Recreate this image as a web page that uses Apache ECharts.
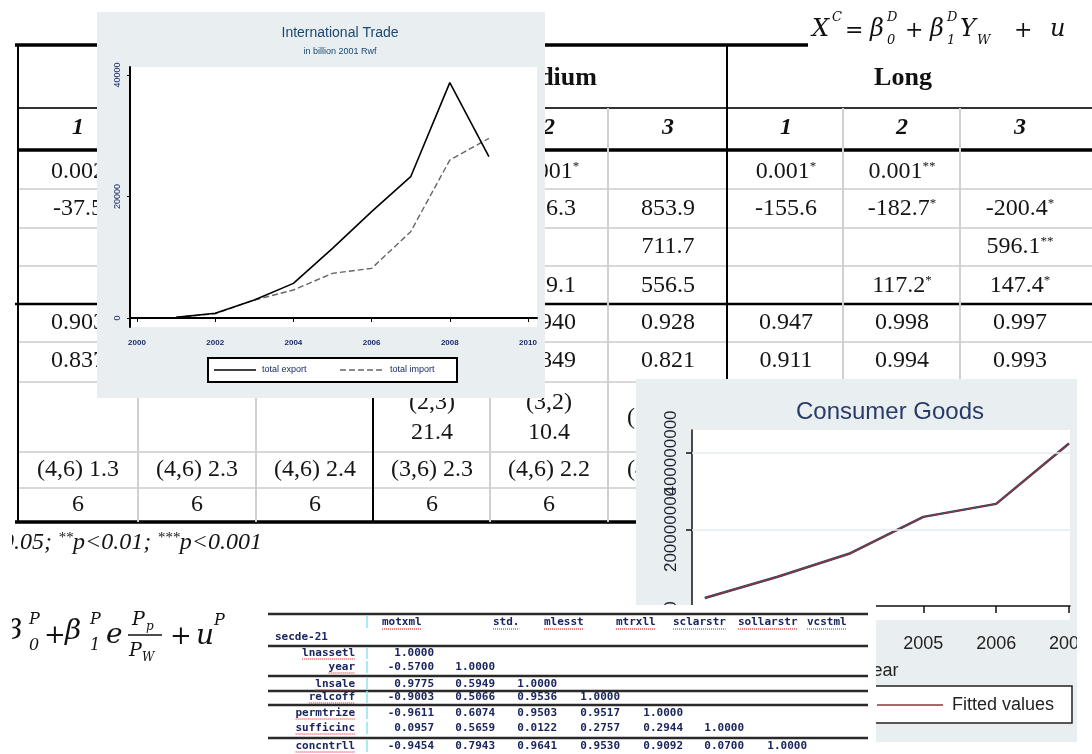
<!DOCTYPE html>
<html><head><meta charset="utf-8">
<script src="https://cdn.jsdelivr.net/npm/echarts@6/dist/echarts.min.js"></script>
<style>html,body{margin:0;padding:0;background:#fff;overflow:hidden}#c{width:1092px;height:754px}</style>
</head><body><div id="c"></div>
<script>
// ---------------- DATA ----------------
const tradeYears = [2001, 2002, 2003, 2004, 2005, 2006, 2007, 2008, 2009];
const totalExport = [110, 770, 2960, 5700, 11470, 17500, 23260, 38740, 26550];
const totalImport = [110, 700, 2960, 4610, 7350, 8170, 14210, 26000, 29570];
const tradeXTicks = [2000, 2002, 2004, 2006, 2008, 2010];
const tradeYTicks = [0, 20000, 40000];
const tradeTitle = 'International Trade';
const tradeSubtitle = 'in billion 2001 Rwf';
const tradeLegend = ['total export', 'total import'];

const goodsYears = [2002, 2003, 2004, 2005, 2006, 2007];
const goodsActual = [2.09e7, 7.66e7, 1.38e8, 2.33e8, 2.67e8, 4.25e8];
const goodsFitted = [2.09e7, 7.66e7, 1.38e8, 2.33e8, 2.67e8, 4.25e8];
const goodsXTicks = [2002, 2003, 2004, 2005, 2006, 2007];
const goodsYTicks = [0, 200000000, 400000000];
const goodsGridLines = [200000000, 400000000];
const goodsTitle = 'Consumer Goods';
const goodsXName = 'year';
const goodsLegend = 'Fitted values';

const tableGroups = ['Short', 'Medium', 'Long'];
const tableColNums = ['1', '2', '3', '1', '2', '3', '1', '2', '3'];
const rowCoefA = ['0.002', '', '', '', '0.001*', '', '0.001*', '0.001**', ''];
const rowCoefB = ['-37.5', '', '', '', '256.3', '853.9', '-155.6', '-182.7*', '-200.4*'];
const rowCoefC = ['', '', '', '', '', '711.7', '', '', '596.1**'];
const rowCoefD = ['', '', '', '', '429.1', '556.5', '', '117.2*', '147.4*'];
const rowR2 = ['0.903', '', '', '', '0.940', '0.928', '0.947', '0.998', '0.997'];
const rowAdjR2 = ['0.837', '', '', '', '0.849', '0.821', '0.911', '0.994', '0.993'];
const rowLagTop = ['', '', '', '(2,3)', '(3,2)', '', '', '', ''];
const rowLagBottom = ['', '', '', '21.4', '10.4', '', '', '', ''];
const rowLagSingle = ['', '', '', '', '', '(2,4) 6.1', '', '', ''];
const rowTest = ['(4,6) 1.3', '(4,6) 2.3', '(4,6) 2.4', '(3,6) 2.3', '(4,6) 2.2', '(4,6) 2.0', '', '', ''];
const rowN = ['6', '6', '6', '6', '6', '6', '', '', ''];
const footnoteParts = ['0.05; ', '**', 'p<0.01; ', '***', 'p<0.001'];

const corrHeaders = ['motxml', 'std.', 'mlesst', 'mtrxll', 'sclarstr', 'sollarstr', 'vcstml'];
const corrCornerLabel = 'secde-21';
const corrVars = ['lnassetl', 'year', 'lnsale', 'relcoff', 'permtrize', 'sufficinc', 'concntrll'];
const corrRows = [
  ['1.0000'],
  ['-0.5700', '1.0000'],
  ['0.9775', '0.5949', '1.0000'],
  ['-0.9003', '0.5066', '0.9536', '1.0000'],
  ['-0.9611', '0.6074', '0.9503', '0.9517', '1.0000'],
  ['0.0957', '0.5659', '0.0122', '0.2757', '0.2944', '1.0000'],
  ['-0.9454', '0.7943', '0.9641', '0.9530', '0.9092', '0.0700', '1.0000']
];

// ---------------- LAYOUT / DRAWING ----------------
const SERIF = 'Liberation Serif, Times New Roman, serif';
const SANS = 'Liberation Sans, Arial, sans-serif';
const MONO = 'DejaVu Sans Mono, Liberation Mono, monospace';
const PANEL = '#e9eff1';
const G = [];
function line(x1, y1, x2, y2, color, w, z, dash) {
  G.push({type: 'line', silent: true, z: z, shape: {x1, y1, x2, y2},
    style: {stroke: color, lineWidth: w, lineDash: dash || null}});
}
function rect(x, y, w, h, fill, z, stroke, lw) {
  G.push({type: 'rect', silent: true, z: z, shape: {x, y, width: w, height: h},
    style: {fill: fill, stroke: stroke || null, lineWidth: lw || 0}});
}
function text(x, y, str, st, z) {
  G.push({type: 'text', silent: true, z: z == null ? 1 : z, x: x, y: y,
    style: Object.assign({text: str, fill: '#111', align: 'center', verticalAlign: 'middle',
      fontFamily: SANS, fontSize: 12}, st)});
}

// ---- main regression table (background) ----
const TZ = -10;
const colX = [78, 197, 315, 432, 549, 668, 786, 902, 1020];
const sepX = [18, 138, 256, 373, 490, 608, 727, 843, 960];
const thickSep = [18, 373, 727];
const cellFont = {fontFamily: SERIF, fontSize: 24, fill: '#151515'};
function cell(x, y, s) {
  if (!s) return;
  const m = s.match(/^(.*?)(\*+)$/);
  if (m) {
    text(x, y, '{n|' + m[1] + '}{s|' + m[2] + '}', {
      rich: {
        n: {fontFamily: SERIF, fontSize: 24, fill: '#151515'},
        s: {fontFamily: SERIF, fontSize: 13, fill: '#151515', verticalAlign: 'top'}
      }
    }, TZ + 1);
  } else {
    text(x, y, s, cellFont, TZ + 1);
  }
}
line(15, 45, 808, 45, '#000', 3.5, TZ);
line(18, 108, 1092, 108, '#333', 2, TZ);
line(18, 150, 1092, 150, '#000', 3.5, TZ);
[189, 228, 266, 342, 382, 452, 488].forEach(y => line(18, y, 1092, y, '#d8d8d8', 2, TZ));
line(15, 304, 1092, 304, '#000', 2.5, TZ);
line(15, 522, 1092, 522, '#000', 3.5, TZ);
sepX.forEach(x => {
  if (thickSep.indexOf(x) >= 0) line(x, 45, x, 522, '#000', 2, TZ);
  else line(x, 108, x, 522, '#d0d0d0', 2, TZ);
});
[195, 550, 903].forEach((x, i) => text(x, 78, tableGroups[i], {fontFamily: SERIF, fontSize: 26, fontWeight: 'bold', fill: '#111'}, TZ + 1));
tableColNums.forEach((s, i) => text(colX[i], 128, s, {fontFamily: SERIF, fontSize: 24, fontWeight: 'bold', fontStyle: 'italic', fill: '#111'}, TZ + 1));
const rowsSpec = [[rowCoefA, 172], [rowCoefB, 209], [rowCoefC, 247], [rowCoefD, 286], [rowR2, 323],
  [rowAdjR2, 361], [rowLagTop, 403], [rowLagBottom, 433], [rowLagSingle, 418], [rowTest, 470], [rowN, 505]];
rowsSpec.forEach(([row, y]) => row.forEach((s, i) => cell(colX[i], y, s)));
text(2, 543, '{a|' + footnoteParts[0] + '}{s|' + footnoteParts[1] + '}{a|' + footnoteParts[2] + '}{s|' + footnoteParts[3] + '}{a|' + footnoteParts[4] + '}', {
  align: 'left',
  rich: {
    a: {fontFamily: SERIF, fontSize: 24, fontStyle: 'italic', fill: '#151515'},
    s: {fontFamily: SERIF, fontSize: 15, fontStyle: 'italic', fill: '#151515', verticalAlign: 'top'}
  }
}, TZ + 1);

// ---- equations ----
const EQ = {fontFamily: 'DejaVu Serif, Liberation Serif, serif', fontStyle: 'italic', fill: '#111', align: 'left'};
function eq(x, y, s, size, extra) { text(x, y, s, Object.assign({}, EQ, {fontSize: size}, extra || {}), 3); }
rect(808, 0, 284, 58, '#fff', -8);
eq(812, 30, 'X', 24);
eq(832, 18, 'C', 13);
eq(845, 31, '=', 22, {fontStyle: 'normal'});
eq(870, 30, 'β', 24);
eq(887, 18, 'D', 13);
eq(887, 41, '0', 13);
eq(905, 31, '+', 22, {fontStyle: 'normal'});
eq(930, 30, 'β', 24);
eq(947, 18, 'D', 13);
eq(947, 41, '1', 13);
eq(960, 30, 'Y', 24);
eq(977, 41, 'W', 13);
eq(1014, 31, '+', 22, {fontStyle: 'normal'});
eq(1050, 30, 'u', 24);
eq(6, 632, 'β', 28);
eq(29, 620, 'P', 16);
eq(29, 646, '0', 16);
eq(44, 636, '+', 26, {fontStyle: 'normal'});
eq(65, 632, 'β', 28);
eq(90, 620, 'P', 16);
eq(90, 646, '1', 16);
eq(106, 636, 'e', 28);
eq(132, 620, 'P', 19);
eq(146, 627, 'p', 12);
line(128, 635, 162, 635, '#111', 1.5, 3);
eq(129, 651, 'P', 19);
eq(142, 658, 'W', 12);
eq(170, 637, '+', 26, {fontStyle: 'normal'});
eq(196, 637, 'u', 28);
eq(214, 621, 'P', 16);
rect(0, 525, 12, 229, '#fff', 4);

// ---- International Trade inset panel ----
rect(97, 12, 448, 386, PANEL, -5);
text(340, 33, tradeTitle, {fontFamily: SANS, fontSize: 14, fill: '#1a476f'}, 5);
text(340, 52, tradeSubtitle, {fontFamily: SANS, fontSize: 9, fill: '#1a476f'}, 5);
rect(208, 358, 249, 24, '#fff', 5, '#000', 2);
line(214, 370, 256, 370, '#000', 1.5, 6);
text(262, 370, tradeLegend[0], {fontFamily: SANS, fontSize: 9, fill: '#1a2a6a', align: 'left'}, 6);
line(340, 370, 384, 370, '#666', 1.5, 6, [6, 3]);
text(390, 370, tradeLegend[1], {fontFamily: SANS, fontSize: 9, fill: '#1a2a6a', align: 'left'}, 6);

// ---- Consumer Goods panel ----
rect(636, 379, 441, 363, PANEL, -5);
text(890, 412, goodsTitle, {fontFamily: SANS, fontSize: 24, fill: '#2a3a68'}, 5);
rect(868, 686, 204, 37, '#fff', 5, '#222', 1.5);
line(877, 705, 943, 705, '#90353b', 1.5, 6);
text(952, 705, goodsLegend, {fontFamily: SANS, fontSize: 18, fill: '#222', align: 'left'}, 6);
rect(1077, 379, 15, 375, '#fff', 40);

// ---- correlation table (on top) ----
const CZ = 50;
rect(265, 605, 611, 149, '#fff', CZ);
[614, 646, 676, 691, 705, 738].forEach(y => line(268, y, 868, y, '#2a2a2a', 2.5, CZ + 1));
const cFont = {fontFamily: MONO, fontSize: 11, fontWeight: 'bold', fill: '#1b2560'};
const hdrX = [382, 493, 544, 616, 673, 738, 807];
corrHeaders.forEach((h, i) => {
  text(hdrX[i], 622, h, Object.assign({}, cFont, {align: 'left'}), CZ + 2);
  line(hdrX[i], 629, hdrX[i] + h.length * 6.6, 629, '#e0303a', 1.2, CZ + 2, [1, 1]);
});
text(275, 637, corrCornerLabel, Object.assign({}, cFont, {align: 'left'}), CZ + 2);
const rowY = [653, 667, 684, 697, 713, 728, 746];
const valR = [434, 495, 557, 620, 683, 744, 807];
line(367, 616, 367, 628, '#8fe3f2', 1.5, CZ + 2);
corrVars.forEach((v, r) => {
  const y = rowY[r];
  text(355, y, v, Object.assign({}, cFont, {align: 'right'}), CZ + 2);
  line(355 - v.length * 6.6, y + 6, 355, y + 6, '#e0303a', 1.2, CZ + 2, [1, 1]);
  line(367, y - 6, 367, y + 6, '#8fe3f2', 1.5, CZ + 2);
  corrRows[r].forEach((s, c) => text(valR[c], y, s, Object.assign({}, cFont, {align: 'right'}), CZ + 2));
});

// ---------------- CHART ----------------
const chart = echarts.init(document.getElementById('c'), null, {renderer: 'canvas'});
const fmt = v => String(v);
const goodsYLow = goodsYTicks.slice(0, 2);
const goodsYHigh = goodsYTicks.slice(2);
const goodsYBase = {type: 'value', gridIndex: 1, position: 'left', offset: 0, min: -36600000, max: 460100000, splitLine: {show: false}};
chart.setOption({
  animation: false,
  backgroundColor: '#fff',
  grid: [
    {left: 130, top: 67, width: 407, height: 260, show: true, backgroundColor: '#fff', borderWidth: 0},
    {left: 692, top: 430, width: 384, height: 190, show: true, backgroundColor: '#fff', borderWidth: 0}
  ],
  xAxis: [
    {type: 'value', gridIndex: 0, min: 1999.821, max: 2010.23,
      axisLine: {show: true, lineStyle: {color: '#000', width: 2}},
      axisTick: {show: true, customValues: tradeXTicks, length: 4, lineStyle: {color: '#000'}},
      axisLabel: {customValues: tradeXTicks, formatter: fmt, fontSize: 8, fontWeight: 'bold', color: '#1a2a6a', margin: 12, fontFamily: SANS},
      splitLine: {show: false}},
    {type: 'value', gridIndex: 1, min: 2001.824, max: 2007.014,
      name: goodsXName, nameLocation: 'middle', nameGap: 42,
      nameTextStyle: {fontSize: 18, color: '#222', fontFamily: SANS},
      axisLine: {show: true, lineStyle: {color: '#111', width: 1.5}},
      axisTick: {show: true, customValues: goodsXTicks, length: 7, lineStyle: {color: '#111', width: 1.5}},
      axisLabel: {customValues: goodsXTicks, formatter: fmt, fontSize: 18, color: '#222', margin: 15, fontFamily: SANS},
      splitLine: {show: false}}
  ],
  yAxis: [
    {type: 'value', gridIndex: 0, min: -1481, max: 41317,
      axisLine: {show: true, lineStyle: {color: '#000', width: 2}},
      axisTick: {show: true, customValues: tradeYTicks, length: 3, lineStyle: {color: '#000'}},
      axisLabel: {customValues: tradeYTicks, formatter: fmt, rotate: 90, fontSize: 9, color: '#1a2a6a', margin: 8, fontFamily: SANS},
      splitLine: {show: false}},
    Object.assign({}, goodsYBase, {
      axisLine: {show: true, lineStyle: {color: '#111', width: 1.5}},
      axisTick: {show: true, customValues: goodsYTicks, length: 6, lineStyle: {color: '#111', width: 1.5}},
      axisLabel: {customValues: goodsYLow, formatter: fmt, rotate: 90, fontSize: 17, color: '#1e2230', margin: 12, fontFamily: SANS}}),
    Object.assign({}, goodsYBase, {
      axisLine: {show: false}, axisTick: {show: false},
      axisLabel: {customValues: goodsYHigh, formatter: fmt, rotate: 90, fontSize: 17, color: '#1e2230', margin: 12, fontFamily: SANS}})
  ],
  series: [
    {type: 'line', xAxisIndex: 0, yAxisIndex: 0, symbol: 'none', z: 3,
      data: tradeYears.map((y, i) => [y, totalExport[i]]),
      lineStyle: {color: '#000', width: 1.6}},
    {type: 'line', xAxisIndex: 0, yAxisIndex: 0, symbol: 'none', z: 2,
      data: tradeYears.map((y, i) => [y, totalImport[i]]),
      lineStyle: {color: '#666', width: 1.4, type: [6, 3]}},
    {type: 'line', xAxisIndex: 1, yAxisIndex: 1, symbol: 'none', z: 2,
      data: goodsYears.map((y, i) => [y, goodsActual[i]]),
      lineStyle: {color: '#1a476f', width: 2.5},
      markLine: {silent: true, symbol: 'none', label: {show: false},
        lineStyle: {color: '#e4edf0', type: 'solid', width: 1.5},
        data: goodsGridLines.map(v => ({yAxis: v}))}},
    {type: 'line', xAxisIndex: 1, yAxisIndex: 1, symbol: 'none', z: 3,
      data: goodsYears.map((y, i) => [y, goodsFitted[i]]),
      lineStyle: {color: '#90353b', width: 1.5}}
  ],
  graphic: {elements: G}
});
</script></body></html>
